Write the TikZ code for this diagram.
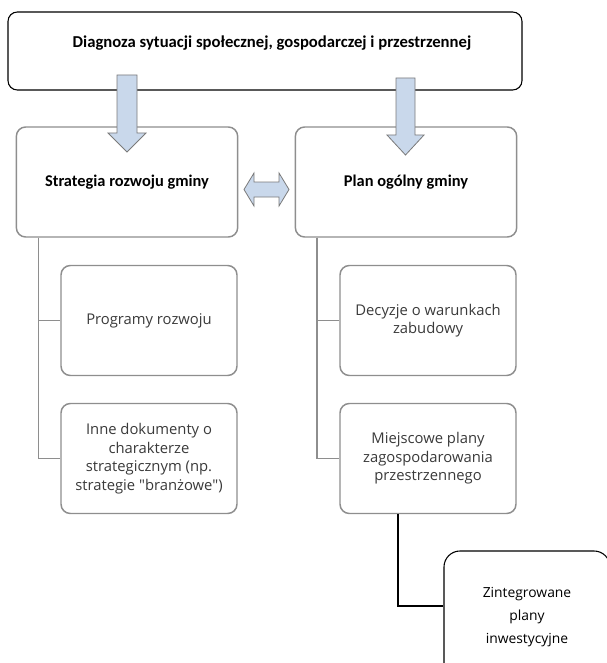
\documentclass[tikz,border=0pt]{standalone}
\usepackage{fontspec}
\setmainfont{Open Sans}[Ligatures=TeXOff]
\newfontfamily\headfont{Carlito}
\definecolor{boxgray}{HTML}{8E8E8E}
\definecolor{arrfill}{HTML}{C9D8EB}
\definecolor{arrline}{HTML}{7A7A7A}
\definecolor{txtgray}{HTML}{3A3A3A}
\begin{document}
\begin{tikzpicture}[x=0.75pt,y=-0.75pt,
  headbox/.style={draw=black,line width=0.8pt,rounded corners=7pt,fill=white},
  mainbox/.style={draw=boxgray,line width=1.1pt,rounded corners=7pt,fill=white,minimum width=166pt,minimum height=82.5pt,
    font=\headfont\bfseries\fontsize{12.3}{14}\selectfont,align=center},
  subbox/.style={draw=boxgray,line width=1.1pt,rounded corners=7pt,fill=white,minimum width=132pt,minimum height=82.5pt,
    font=\fontsize{11.1}{13.9}\selectfont,text=txtgray,align=center},
  conn/.style={draw=boxgray,line width=1.1pt},
  blockarrow/.style={fill=arrfill,draw=arrline,line width=0.6pt,line join=miter}
]
\useasboundingbox (0,0) rectangle (606,663);
% top box
\node[headbox,minimum width=385.5pt,minimum height=58.5pt] (top) at (265,51) {};
\node[font=\headfont\bfseries\fontsize{12.5}{14}\selectfont] (toptext) at (272,43) {Diagnoza sytuacji społecznej, gospodarczej i przestrzennej};
% level boxes
\node[mainbox] (strat) at (127,182) {Strategia rozwoju gminy};
\node[mainbox] (plan) at (406,182) {Plan ogólny gminy};
% down arrows
\draw[blockarrow] (117,75) -- (137,75) -- (137,133) -- (146,133) -- (127,152) -- (108,133) -- (117,133) -- cycle;
\draw[blockarrow] (396,78) -- (415,78) -- (415,135) -- (424,135) -- (405.5,155) -- (387,135) -- (396,135) -- cycle;
% double arrow
\draw[blockarrow] (244,189.5) -- (254,173) -- (254,182) -- (279,182) -- (279,173) -- (289,189.5) -- (279,206) -- (279,197) -- (254,197) -- (254,206) -- cycle;
% sub boxes
\node[subbox] (prog) at (149,320.5) {Programy rozwoju};
\node[subbox] (inne) at (149,458.5) {Inne dokumenty o\\charakterze\\strategicznym (np.\\strategie "branżowe")};
\node[subbox] (dec) at (428,320.5) {Decyzje o warunkach\\zabudowy};
\node[subbox] (miej) at (428,458.5) {Miejscowe plany\\zagospodarowania\\przestrzennego};
% bottom box
\node[draw=black,line width=0.8pt,rounded corners=12pt,fill=white,minimum width=124.5pt,minimum height=99pt,
  font=\fontsize{10.4}{17.2}\selectfont,align=center] (zint) at (527,617) {Zintegrowane\\plany\\inwestycyjne};
% connectors
\coordinate (lv) at (38.5,237);
\coordinate (rv) at (317,237);
\draw[conn] (strat.south -| lv) |- (prog.west);
\draw[conn] (strat.south -| lv) |- (inne.west);
\draw[conn] (plan.south -| rv) |- (dec.west);
\draw[conn] (plan.south -| rv) |- (miej.west);
\coordinate (bv) at (398,513);
\draw[black,line width=1.5pt] (miej.south -| bv) |- ([yshift=8pt]zint.west);
\end{tikzpicture}
\end{document}
